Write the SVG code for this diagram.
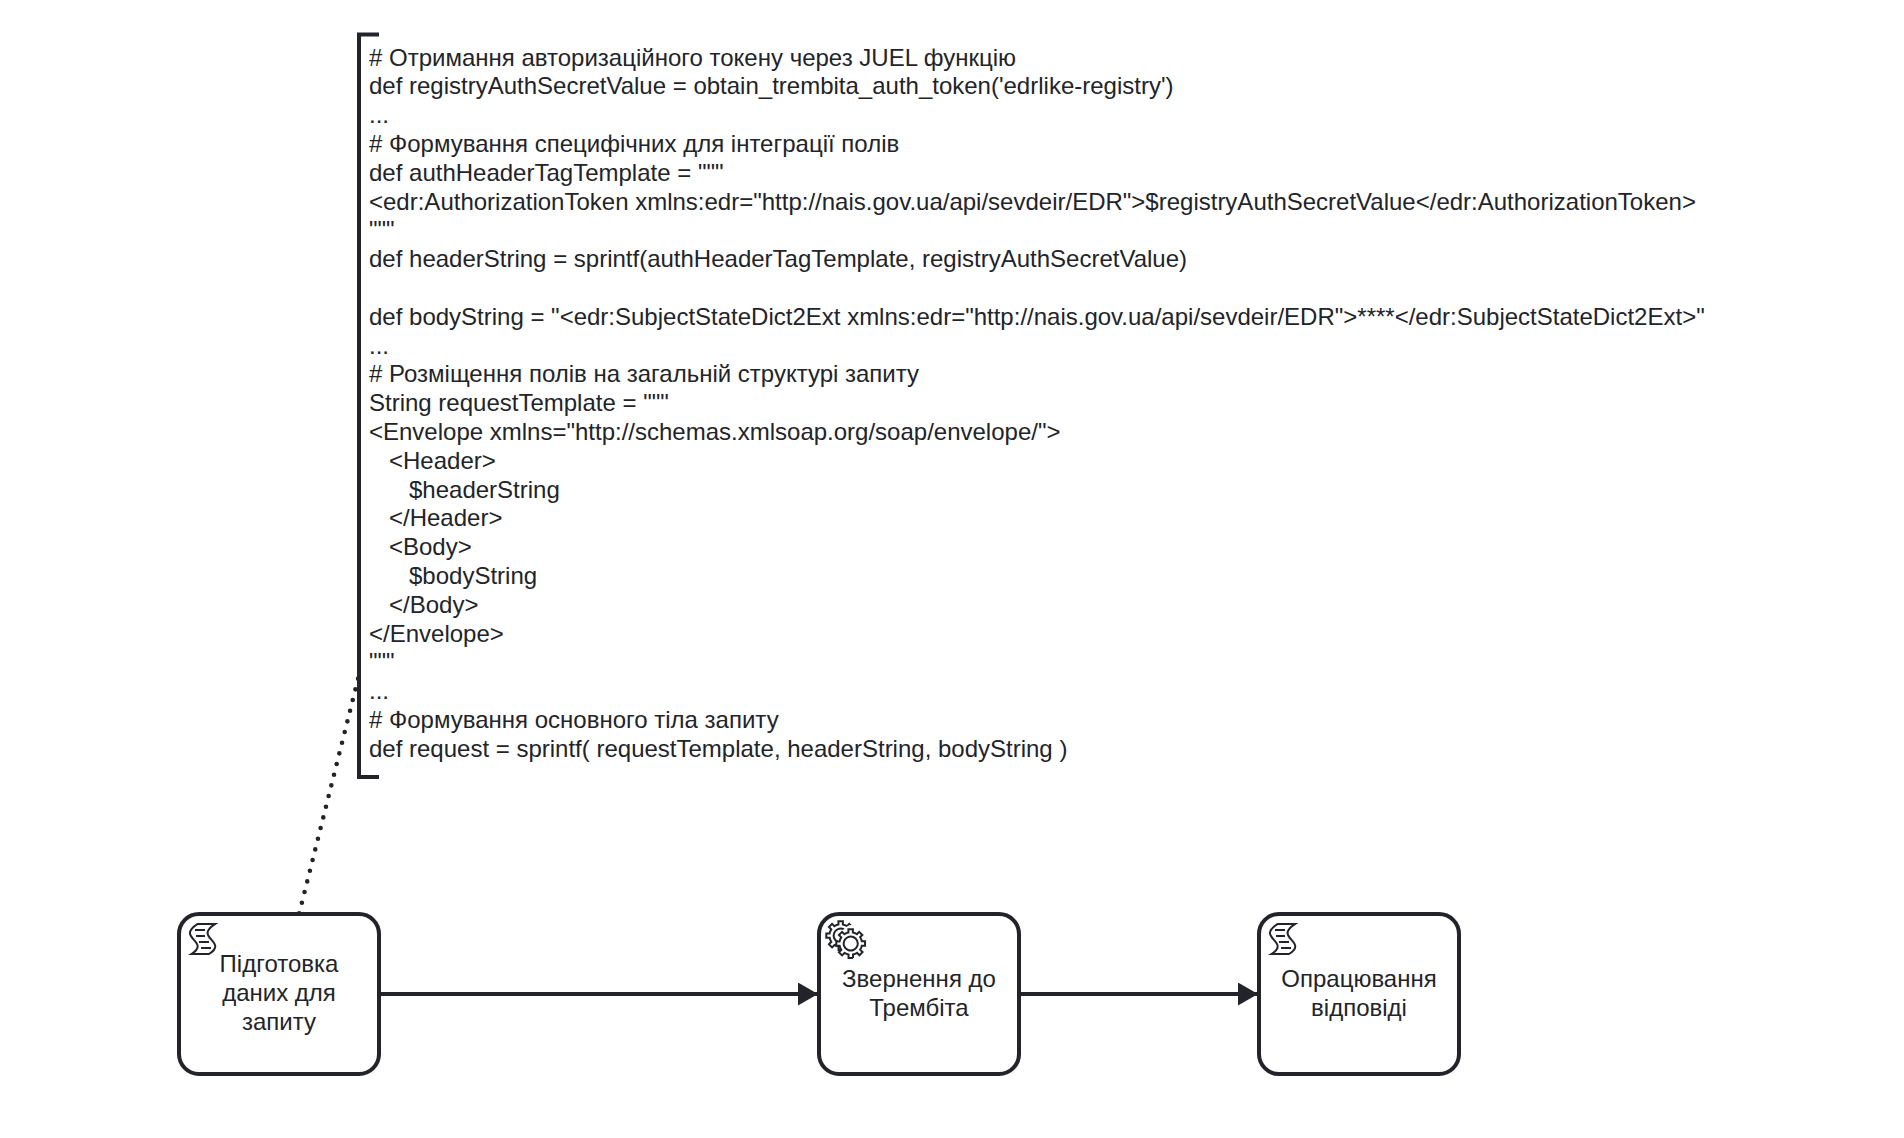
<svg xmlns="http://www.w3.org/2000/svg" width="1904" height="1138" viewBox="0 0 1904 1138">
<defs>
<style>
text{font-family:"Liberation Sans",Arial,sans-serif;font-size:24px;fill:#22242a}
.task{fill:#fff;stroke:#22242a;stroke-width:4}
.label{text-anchor:middle}
.icon{fill:#fff;stroke:#22242a;stroke-width:1}
.flow{fill:none;stroke:#22242a;stroke-width:4}
.assoc{fill:none;stroke:#22242a;stroke-width:4.6;stroke-linecap:round;stroke-dasharray:0 11}
.anno{fill:none;stroke:#22242a;stroke-width:4}
</style>
<marker id="arrow" markerUnits="userSpaceOnUse" markerWidth="24" markerHeight="24" refX="20" refY="11.500" orient="auto" viewBox="0 0 24 24"><path d="M0 0L20 11.500L0 23Z" fill="#22242a"/></marker>
<g id="scriptIcon"><path class="icon" d="m15,20c9.966553,-6.27276 -8.000926,-7.91932 2.968968,-14.938l-8.802728,0c-10.969894,7.01868 6.997585,8.66524 -2.968967,14.938zm-7,-12l5,0m-4.5,3l4.5,0m-3,3l5,0m-4,3l5,0"/></g>
<path id="gear" class="icon" d="m0,0v-1.71335c0.352326,-0.0705 0.703932,-0.17838 1.047628,-0.32133 0.344416,-0.14465 0.665822,-0.32133 0.966377,-0.52145l1.19431,1.18005 1.567487,-1.57688 -1.195028,-1.18014c0.403376,-0.61394 0.683079,-1.29908 0.825447,-2.01824l1.622133,-0.01v-2.2196l-1.636514,0.01c-0.07333,-0.35153 -0.178319,-0.70024 -0.323564,-1.04372 -0.145244,-0.34406 -0.321407,-0.6644 -0.522735,-0.96217l1.131035,-1.13631 -1.583305,-1.56293 -1.129598,1.13589c-0.614052,-0.40108 -1.302883,-0.68093 -2.022633,-0.82247l0.0093,-1.61852h-2.241173l0.0042,1.63124c-0.353763,0.0736 -0.705369,0.17977 -1.049785,0.32371 -0.344415,0.14437 -0.665102,0.32092 -0.9635006,0.52046l-1.1698628,-1.15823 -1.5667691,1.5792 1.1684265,1.15669c-0.4026573,0.61283 -0.68308,1.29797 -0.8247287,2.01713l-1.6588041,0.003v2.22174l1.6724648,-0.006c0.073327,0.35077 0.1797598,0.70243 0.3242851,1.04472 0.1452428,0.34448 0.3214064,0.6644 0.5227339,0.96066l-1.1993431,1.19723 1.5840256,1.56011 1.1964668,-1.19348c0.6140517,0.40346 1.3028827,0.68232 2.0233517,0.82331l0.000719,1.69892h2.226848zm0.221462,-3.9957c-1.788948,0.7502 -3.8576,-0.0928 -4.6097055,-1.87438 -0.7521065,-1.78321 0.090598,-3.84627 1.8802645,-4.59604 1.78823,-0.74936 3.856881,0.0929 4.608987,1.87437 0.752106,1.78165 -0.0906,3.84612 -1.879546,4.59605z"/>
</defs>
<g id="connectors">
<path id="association" class="assoc" d="M299.2 913.4L358.5 677"/>
<path id="flow1" class="flow" d="M379 994H818" marker-end="url(#arrow)"/>
<path id="flow2" class="flow" d="M1019 994H1258" marker-end="url(#arrow)"/>
</g>
<g id="annotation">
<path class="anno" d="M379 34.500H359V777H379"/>
<text x="369" y="66">
<tspan x="369" y="66"># Отримання авторизаційного токену через JUEL функцію</tspan>
<tspan x="369" y="94">def registryAuthSecretValue = obtain_trembita_auth_token('edrlike-registry')</tspan>
<tspan x="369" y="123">...</tspan>
<tspan x="369" y="152"># Формування специфічних для інтеграції полів</tspan>
<tspan x="369" y="181">def authHeaderTagTemplate = """</tspan>
<tspan x="369" y="210">&lt;edr:AuthorizationToken xmlns:edr="http://nais.gov.ua/api/sevdeir/EDR"&gt;$registryAuthSecretValue&lt;/edr:AuthorizationToken&gt;</tspan>
<tspan x="369" y="238">"""</tspan>
<tspan x="369" y="267">def headerString = sprintf(authHeaderTagTemplate, registryAuthSecretValue)</tspan>
<tspan x="369" y="325">def bodyString = "&lt;edr:SubjectStateDict2Ext xmlns:edr="http://nais.gov.ua/api/sevdeir/EDR"&gt;****&lt;/edr:SubjectStateDict2Ext&gt;"</tspan>
<tspan x="369" y="354">...</tspan>
<tspan x="369" y="382"># Розміщення полів на загальній структурі запиту</tspan>
<tspan x="369" y="411">String requestTemplate = """</tspan>
<tspan x="369" y="440">&lt;Envelope xmlns="http://schemas.xmlsoap.org/soap/envelope/"&gt;</tspan>
<tspan x="389" y="469">&lt;Header&gt;</tspan>
<tspan x="409" y="498">$headerString</tspan>
<tspan x="389" y="526">&lt;/Header&gt;</tspan>
<tspan x="389" y="555">&lt;Body&gt;</tspan>
<tspan x="409" y="584">$bodyString</tspan>
<tspan x="389" y="613">&lt;/Body&gt;</tspan>
<tspan x="369" y="642">&lt;/Envelope&gt;</tspan>
<tspan x="369" y="670">"""</tspan>
<tspan x="369" y="699">...</tspan>
<tspan x="369" y="728"># Формування основного тіла запиту</tspan>
<tspan x="369" y="757">def request = sprintf( requestTemplate, headerString, bodyString )</tspan>
</text>
</g>
<g id="task1">
<rect class="task" x="179" y="914" width="200" height="160" rx="20"/>
<use href="#scriptIcon" transform="translate(179 914) scale(2)"/>
<text class="label"><tspan x="279" y="972">Підготовка</tspan><tspan x="279" y="1001">даних для</tspan><tspan x="279" y="1030">запиту</tspan></text>
</g>
<g id="task2">
<rect class="task" x="819" y="914" width="200" height="160" rx="20"/>
<g transform="translate(819 914) scale(2)">
<use href="#gear" x="12" y="18"/>
<path class="icon" style="stroke:none" d="m17.2,18c3.526979,0 6.386161,-2.829858 6.386161,-6.320661 0,-3.490806 -2.859182,-6.320661 -6.386161,-6.320661 -3.526978,0 -6.38616,2.829855 -6.38616,6.320661 0,3.490803 2.859182,6.320661 6.38616,6.320661z"/>
<use href="#gear" x="17" y="22"/>
</g>
<text class="label"><tspan x="919" y="987">Звернення до</tspan><tspan x="919" y="1016">Трембіта</tspan></text>
</g>
<g id="task3">
<rect class="task" x="1259" y="914" width="200" height="160" rx="20"/>
<use href="#scriptIcon" transform="translate(1259 914) scale(2)"/>
<text class="label"><tspan x="1359" y="987">Опрацювання</tspan><tspan x="1359" y="1016">відповіді</tspan></text>
</g>
</svg>
